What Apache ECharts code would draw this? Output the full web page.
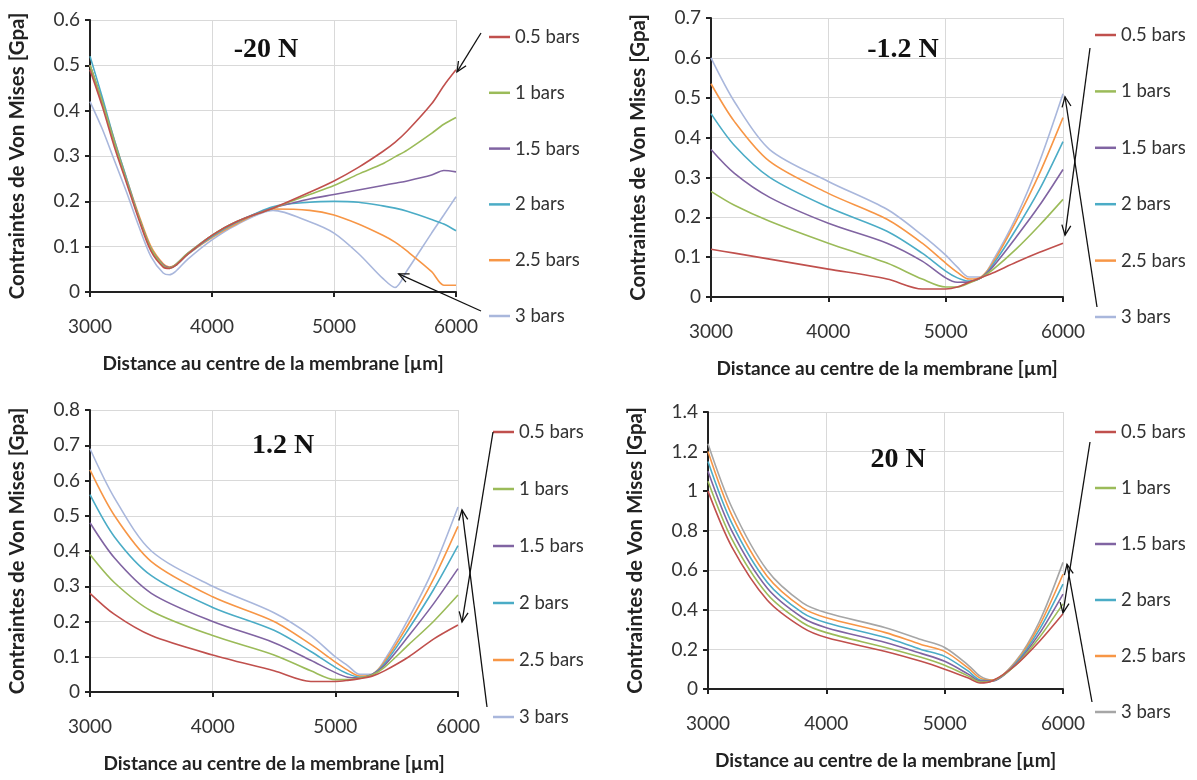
<!DOCTYPE html>
<html><head><meta charset="utf-8">
<script src="https://cdn.jsdelivr.net/npm/echarts@6/dist/echarts.min.js"></script>
<style>html,body{margin:0;padding:0;background:#fff}#c{width:1197px;height:780px}</style>
</head><body><div id="c"></div>
<script>
// ---------- data ----------
const seriesNames = ['0.5 bars', '1 bars', '1.5 bars', '2 bars', '2.5 bars', '3 bars'];
const panelTitles = ['-20 N', '-1.2 N', '1.2 N', '20 N'];
const xTicks = [3000, 4000, 5000, 6000];

// Panel -20 N
const xN20 = [3000,3100,3200,3300,3400,3500,3600,3650,3700,3800,4000,4200,4500,4800,5000,5200,5400,5500,5600,5800,5900,6000];
const n20_05 = [0.49,0.41,0.32,0.24,0.16,0.09,0.055,0.052,0.058,0.083,0.125,0.155,0.185,0.22,0.245,0.275,0.31,0.33,0.355,0.415,0.455,0.49];
const n20_1  = [0.50,0.42,0.33,0.245,0.165,0.095,0.058,0.053,0.06,0.085,0.125,0.155,0.185,0.215,0.235,0.26,0.283,0.298,0.313,0.35,0.37,0.385];
const n20_15 = [0.50,0.42,0.33,0.245,0.165,0.095,0.06,0.054,0.06,0.085,0.125,0.155,0.185,0.205,0.215,0.225,0.235,0.24,0.245,0.258,0.268,0.265];
const n20_2  = [0.52,0.43,0.335,0.25,0.165,0.095,0.058,0.052,0.058,0.083,0.122,0.153,0.188,0.198,0.2,0.198,0.19,0.185,0.178,0.16,0.15,0.135];
const n20_25 = [0.50,0.42,0.335,0.25,0.17,0.1,0.062,0.055,0.06,0.083,0.12,0.15,0.183,0.18,0.17,0.15,0.125,0.11,0.09,0.045,0.015,0.015];
const n20_3  = [0.42,0.36,0.29,0.22,0.145,0.078,0.042,0.038,0.045,0.072,0.115,0.148,0.18,0.155,0.13,0.085,0.03,0.01,0.048,0.13,0.17,0.21];

// Panel -1.2 N
const xN12 = [3000,3200,3500,4000,4500,4800,5000,5100,5200,5300,5400,5600,5800,6000];
const n12_05 = [0.12,0.11,0.095,0.07,0.045,0.02,0.02,0.025,0.037,0.048,0.06,0.087,0.112,0.135];
const n12_1  = [0.265,0.23,0.19,0.135,0.085,0.045,0.025,0.025,0.035,0.048,0.068,0.12,0.18,0.245];
const n12_15 = [0.37,0.31,0.25,0.185,0.135,0.09,0.048,0.037,0.038,0.048,0.075,0.15,0.23,0.32];
const n12_2  = [0.46,0.38,0.3,0.225,0.165,0.11,0.065,0.048,0.04,0.048,0.08,0.17,0.27,0.39];
const n12_25 = [0.535,0.44,0.34,0.26,0.195,0.135,0.085,0.062,0.045,0.05,0.085,0.19,0.31,0.45];
const n12_3  = [0.6,0.49,0.37,0.29,0.22,0.155,0.105,0.075,0.05,0.05,0.09,0.2,0.34,0.51];

// Panel 1.2 N
const xP12 = [3000,3200,3500,4000,4500,4800,5000,5100,5200,5300,5400,5600,5800,6000];
const p12_05 = [0.28,0.22,0.16,0.105,0.06,0.03,0.03,0.033,0.038,0.045,0.06,0.1,0.15,0.19];
const p12_1  = [0.39,0.31,0.23,0.16,0.105,0.06,0.035,0.035,0.04,0.048,0.07,0.135,0.2,0.275];
const p12_15 = [0.48,0.38,0.28,0.2,0.14,0.09,0.055,0.042,0.04,0.05,0.075,0.16,0.25,0.35];
const p12_2  = [0.56,0.44,0.33,0.24,0.175,0.115,0.07,0.052,0.042,0.05,0.08,0.18,0.29,0.415];
const p12_25 = [0.63,0.5,0.37,0.27,0.2,0.135,0.085,0.062,0.045,0.05,0.085,0.195,0.32,0.47];
const p12_3  = [0.69,0.55,0.4,0.3,0.225,0.16,0.1,0.075,0.05,0.05,0.09,0.21,0.35,0.525];

// Panel 20 N
const xP20 = [3000,3200,3500,3800,4000,4500,4800,5000,5200,5300,5400,5600,5800,6000];
const p20_05 = [1.0,0.72,0.45,0.31,0.26,0.19,0.14,0.1,0.055,0.03,0.04,0.12,0.24,0.38];
const p20_1  = [1.05,0.76,0.48,0.335,0.285,0.21,0.16,0.12,0.065,0.035,0.04,0.12,0.26,0.43];
const p20_15 = [1.1,0.8,0.51,0.36,0.31,0.235,0.18,0.14,0.075,0.04,0.04,0.125,0.28,0.48];
const p20_2  = [1.15,0.84,0.54,0.385,0.335,0.26,0.2,0.165,0.09,0.045,0.042,0.13,0.3,0.53];
const p20_25 = [1.2,0.88,0.57,0.41,0.36,0.285,0.225,0.19,0.105,0.055,0.045,0.135,0.32,0.58];
const p20_3  = [1.24,0.92,0.6,0.435,0.385,0.31,0.25,0.21,0.12,0.065,0.045,0.14,0.34,0.64];

// ---------- layout / style ----------
const FONT = 'Lato, "Liberation Sans", sans-serif';
const baseColors = ['#C0504D', '#9BBB59', '#8064A2', '#4BACC6', '#F79646', '#A9B7DC'];
const panels = [
  { x: xN20, ys: [n20_05, n20_1, n20_15, n20_2, n20_25, n20_3], ymax: 0.6, yint: 0.1,
    grid: { left: 90, top: 20, width: 366, height: 272 }, legend: [489, 27, 35.8], title: [266, 52], last: '#A9B7DC' },
  { x: xN12, ys: [n12_05, n12_1, n12_15, n12_2, n12_25, n12_3], ymax: 0.7, yint: 0.1,
    grid: { left: 711, top: 18, width: 352, height: 279 }, legend: [1095, 25, 36.4], title: [903, 52], last: '#A9B7DC' },
  { x: xP12, ys: [p12_05, p12_1, p12_15, p12_2, p12_25, p12_3], ymax: 0.8, yint: 0.1,
    grid: { left: 90, top: 410, width: 368, height: 282 }, legend: [493, 422, 37], title: [283, 448], last: '#A9B7DC' },
  { x: xP20, ys: [p20_05, p20_1, p20_15, p20_2, p20_25, p20_3], ymax: 1.4, yint: 0.2,
    grid: { left: 708, top: 412, width: 355, height: 277 }, legend: [1095, 422, 36], title: [898, 462], last: '#A6A6A6' }
];

const grids = [], xAxes = [], yAxes = [], series = [], legends = [], titles = [];
panels.forEach((p, i) => {
  grids.push(Object.assign({ containLabel: false }, p.grid));
  xAxes.push({
    type: 'value', gridIndex: i, min: xTicks[0], max: xTicks[xTicks.length - 1], interval: 1000,
    name: 'Distance au centre de la membrane [µm]', nameLocation: 'middle', nameGap: 62,
    nameTextStyle: { fontFamily: FONT, fontWeight: 'bold', fontSize: 19, color: '#222' },
    axisLine: { onZero: false, lineStyle: { color: '#222', width: 2 } },
    axisTick: { show: true, inside: false, length: 5, lineStyle: { color: '#222', width: 2 } },
    axisLabel: { fontFamily: FONT, fontSize: 19, color: '#333', margin: 25, formatter: v => String(v) },
    splitLine: { show: true, lineStyle: { color: '#D9D9D9', width: 1 } }
  });
  yAxes.push({
    type: 'value', gridIndex: i, min: 0, max: p.ymax, interval: p.yint,
    name: 'Contraintes de Von Mises [Gpa]', nameLocation: 'middle', nameGap: 62, nameRotate: 90,
    nameTextStyle: { fontFamily: FONT, fontWeight: 'bold', fontSize: 20.5, color: '#222' },
    axisLine: { show: true, lineStyle: { color: '#222', width: 2 } },
    axisTick: { show: true, inside: false, length: 5, lineStyle: { color: '#222', width: 2 } },
    axisLabel: { fontFamily: FONT, fontSize: 19, color: '#333', margin: 10,
      formatter: v => String(Math.round(v * 10) / 10) },
    splitLine: { show: true, lineStyle: { color: '#D9D9D9', width: 1 } }
  });
  const cols = baseColors.slice(0, 5).concat([p.last]);
  p.ys.forEach((vals, k) => {
    series.push({
      type: 'line', name: seriesNames[k], xAxisIndex: i, yAxisIndex: i,
      data: p.x.map((xv, j) => [xv, vals[j]]),
      smooth: 0.3, showSymbol: false, symbol: 'none',
      lineStyle: { color: cols[k], width: 1.6 }, itemStyle: { color: cols[k] },
      z: 2 + (5 - k)
    });
  });
  legends.push({
    orient: 'vertical', left: p.legend[0], top: p.legend[1], itemGap: p.legend[2], padding: 0,
    icon: 'rect', itemWidth: 21, itemHeight: 2.5,
    selectedMode: false,
    textStyle: { fontFamily: FONT, fontSize: 18.5, color: '#333', lineHeight: 20 },
    data: seriesNames.map((n, k) => ({ name: n, itemStyle: { color: cols[k] } }))
  });
  titles.push({
    text: panelTitles[i], left: p.title[0], top: p.title[1] - 16, textAlign: 'center', padding: 0,
    textStyle: { fontFamily: '"Liberation Serif", "Times New Roman", serif', fontWeight: 'bold', fontSize: 28, color: '#111' }
  });
});

const chart = echarts.init(document.getElementById('c'), null, { renderer: 'canvas' });
chart.setOption({
  animation: false, backgroundColor: '#fff',
  title: titles, grid: grids, xAxis: xAxes, yAxis: yAxes, legend: legends, series: series
});

// ---------- annotation arrows (start near legend, tip anchored to data) ----------
const arrowDefs = [
  { g: 0, from: [481, 33], to: [6000, 0.49], off: [1, 2] },
  { g: 0, from: [481, 311], to: [5530, 0.04], off: [0, 0] },
  { g: 1, from: [1090, 48], to: [6000, 0.135], off: [2, -8] },
  { g: 1, from: [1097, 307], to: [6000, 0.51], off: [2, 3] },
  { g: 2, from: [493, 432], to: [6000, 0.19], off: [4, -3] },
  { g: 2, from: [487, 707], to: [6000, 0.525], off: [4, 3] },
  { g: 3, from: [1090, 442], to: [6000, 0.38], off: [0, -1] },
  { g: 3, from: [1092, 702], to: [6000, 0.64], off: [4, 2] }
];
const gfx = [];
arrowDefs.forEach(a => {
  const t = chart.convertToPixel({ gridIndex: a.g }, a.to);
  const tx = t[0] + a.off[0], ty = t[1] + a.off[1];
  const [fx, fy] = a.from;
  const ang = Math.atan2(fy - ty, fx - tx);
  const L = 11, w = 0.42;
  const h1 = [tx + L * Math.cos(ang + w), ty + L * Math.sin(ang + w)];
  const h2 = [tx + L * Math.cos(ang - w), ty + L * Math.sin(ang - w)];
  const st = { stroke: '#111', lineWidth: 1.3, fill: null };
  gfx.push({ type: 'line', shape: { x1: fx, y1: fy, x2: tx, y2: ty }, style: st, z: 100 });
  gfx.push({ type: 'polyline', shape: { points: [h1, [tx, ty], h2] }, style: st, z: 100 });
});
chart.setOption({ graphic: gfx });
</script>
</body></html>
